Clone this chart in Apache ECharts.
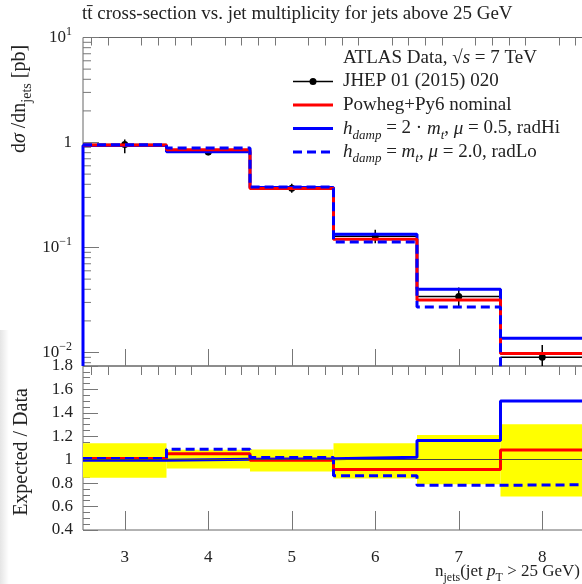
<!DOCTYPE html>
<html>
<head>
<meta charset="utf-8">
<style>
    html, body { margin: 0; padding: 0; background: #fff; }
    #chart { width: 582px; height: 584px; }
</style>
</head>
<body>
<div id="chart"></div>
<script src="https://cdn.jsdelivr.net/npm/echarts@6/dist/echarts.min.js"></script>
<script>
// bins: jet multiplicity 3..8, edges at half integers
var njets = [3, 4, 5, 6, 7, 8];
var binEdges = [2.5, 3.5, 4.5, 5.5, 6.5, 7.5, 8.5];

// top panel, dsigma/dnjets [pb]
var dataXs   = [0.955, 0.81, 0.367, 0.128, 0.0342, 0.0090];
var dataLo   = [0.79, 0.755, 0.333, 0.110, 0.0271, 0.0062];
var dataHi   = [1.07, 0.875, 0.405, 0.148, 0.0416, 0.0118];
var nominalXs = [0.947, 0.853, 0.365, 0.120, 0.0316, 0.0098];
var radHiXs   = [0.935, 0.815, 0.372, 0.134, 0.0401, 0.0137];
var radLoXs   = [0.953, 0.885, 0.376, 0.113, 0.0272, 0.0068];

// bottom panel, expected / data
var bandLo = [0.845, 0.925, 0.90, 0.84, 0.79, 0.686];
var bandHi = [1.14, 1.085, 1.088, 1.14, 1.21, 1.302];
var nominalRatio = [1.01, 1.051, 0.995, 0.917, 0.917, 1.082];
var radHiRatio   = [0.995, 1.005, 1.008, 1.022, 1.165, 1.502];
var radLoRatio   = [1.01, 1.09, 1.018, 0.863, 0.782, 0.786];

var yMinTop = 0.00744, yMaxTop = 10;
var logLabels = {'-2': '{n|10}{sup|−2}', '-1': '{n|10}{sup|−1}', '0': '{n|1}', '1': '{n|10}{sup|1}'};

var FONT = 'Liberation Serif';
var TICK = '#777';
var FRAME = '#666';
var RED = '#ff0000', BLUE = '#0000ff';

var chart = echarts.init(document.getElementById('chart'));

function richSet(size, small) {
    var lh = Math.round(size * 1.4);
    return {
        n:   {fontFamily: FONT, fontSize: size, lineHeight: lh, verticalAlign: 'middle', fill: '#222', color: '#222'},
        i:   {fontFamily: FONT, fontSize: size, fontStyle: 'italic', lineHeight: lh, verticalAlign: 'middle', fill: '#222', color: '#222'},
        sup: {fontFamily: FONT, fontSize: small, lineHeight: small, verticalAlign: 'top', fill: '#222', color: '#222'},
        sub: {fontFamily: FONT, fontSize: small, lineHeight: small, verticalAlign: 'bottom', fill: '#222', color: '#222'},
        isub:{fontFamily: FONT, fontSize: small, fontStyle: 'italic', lineHeight: small, verticalAlign: 'bottom', fill: '#222', color: '#222'}
    };
}
var RICH = richSet(17, 12);
var RICH_LEG = richSet(19, 13);
var RICH_TITLE = richSet(20, 14);

function histo(vals, floor) {
    var pts = [];
    if (floor != null) pts.push([binEdges[0], floor]);
    vals.forEach(function (v, i) { pts.push([binEdges[i], v]); });
    pts.push([binEdges[vals.length], vals[vals.length - 1]]);
    return pts;
}

function stepLine(name, vals, color, dashed, xi, yi, floor) {
    return {
        name: name, type: 'line', step: 'end', xAxisIndex: xi, yAxisIndex: yi,
        data: histo(vals, floor), symbol: 'none', animation: false, silent: true,
        lineStyle: {color: color, width: 3, type: dashed ? [9, 5] : 'solid'}
    };
}

var minorX = [];
for (var k = 26; k <= 85; k += 2) { if (k % 10 !== 0) minorX.push(k / 10); }

var logTicks = [];
[-3, -2, -1, 0, 1].forEach(function (e) {
    for (var m = 1; m < 10; m++) {
        var v = m * Math.pow(10, e);
        if (v >= yMinTop && v <= yMaxTop * 1.0001) logTicks.push([3, v, m === 1 ? 1 : 0]);
    }
});

function xAxisDef(grid, vals, len, labels) {
    return {
        type: 'value', gridIndex: grid, min: 2.5, max: 8.5,
        axisLine: {show: false}, splitLine: {show: false},
        axisTick: {show: true, inside: true, length: len, customValues: vals, lineStyle: {color: TICK}},
        axisLabel: labels ? {show: true, customValues: vals, margin: 19, fontFamily: FONT, fontSize: 17, color: '#222'} : {show: false}
    };
}

var option = {
    backgroundColor: '#fff',
    animation: false,
    grid: [
        {left: 83, top: 37.5, width: 501, height: 328.5, show: true, borderColor: FRAME, borderWidth: 1, containLabel: false, outerBoundsMode: 'none'},
        {left: 83, top: 366, width: 501, height: 164, show: true, borderColor: FRAME, borderWidth: 1, containLabel: false, outerBoundsMode: 'none'}
    ],
    xAxis: [
        xAxisDef(0, njets, 17, false),
        xAxisDef(0, minorX, 8, false),
        xAxisDef(1, njets, 19, true),
        xAxisDef(1, minorX, 9, false)
    ],
    yAxis: [
        {type: 'log', logBase: 10, gridIndex: 0, min: yMinTop, max: yMaxTop,
         axisLine: {show: false}, axisTick: {show: false}, axisLabel: {show: false}, splitLine: {show: false}},
        {type: 'value', gridIndex: 1, min: 0.4, max: 1.8, interval: 0.2,
         axisLine: {show: false}, splitLine: {show: false},
         axisTick: {show: true, inside: true, length: 15, lineStyle: {color: TICK}},
         minorTick: {show: true, splitNumber: 4, length: 7, lineStyle: {color: TICK}},
         axisLabel: {margin: 10, fontFamily: FONT, fontSize: 17, color: '#222'}}
    ],
    series: [
        // log ticks and labels on the top panel
        {
            type: 'custom', xAxisIndex: 0, yAxisIndex: 0, data: logTicks, silent: true, clip: false,
            encode: {x: 0, y: 1},
            renderItem: function (params, api) {
                var v = api.value(1), major = api.value(2);
                var p = api.coord([binEdges[0], v]);
                var children = [{type: 'line', shape: {x1: p[0], y1: p[1], x2: p[0] + (major ? 16 : 8), y2: p[1]},
                                 style: {stroke: TICK, lineWidth: 1}}];
                if (major) {
                    children.push({type: 'text', x: p[0] - 11, y: p[1],
                        style: {text: logLabels[String(Math.round(Math.log10(v)))], rich: RICH,
                                align: 'right', verticalAlign: 'middle', fill: '#222'}});
                }
                return {type: 'group', children: children};
            }
        },
        stepLine('radHi', radHiXs, BLUE, false, 0, 0, yMinTop),
        stepLine('nominal', nominalXs, RED, false, 0, 0),
        stepLine('radLo', radLoXs, BLUE, true, 0, 0),
        // data with error bars
        {
            type: 'custom', xAxisIndex: 0, yAxisIndex: 0, silent: true, clip: true,
            data: njets.map(function (n, i) { return [n, dataXs[i], dataLo[i], dataHi[i]]; }),
            encode: {x: 0, y: 1},
            renderItem: function (params, api) {
                var i = params.dataIndex;
                var x = api.value(0), y = api.value(1);
                var c = api.coord([x, y]);
                var lo = api.coord([x, Math.max(api.value(2), yMinTop)]);
                var hi = api.coord([x, api.value(3)]);
                var l = api.coord([binEdges[i], y]), r = api.coord([binEdges[i + 1], y]);
                return {type: 'group', children: [
                    {type: 'line', shape: {x1: l[0], y1: c[1], x2: r[0], y2: c[1]}, style: {stroke: '#000', lineWidth: 1.5}},
                    {type: 'line', shape: {x1: c[0], y1: lo[1], x2: c[0], y2: hi[1]}, style: {stroke: '#000', lineWidth: 1.5}},
                    {type: 'circle', shape: {cx: c[0], cy: c[1], r: 3.5}, style: {fill: '#000'}}
                ]};
            }
        },
        // ratio panel: data uncertainty band
        {
            type: 'custom', xAxisIndex: 2, yAxisIndex: 1, silent: true, clip: true,
            data: njets.map(function (n, i) { return [binEdges[i], binEdges[i + 1], bandLo[i], bandHi[i]]; }),
            encode: {x: [0, 1], y: [2, 3]},
            renderItem: function (params, api) {
                var a = api.coord([api.value(0), api.value(3)]);
                var b = api.coord([api.value(1), api.value(2)]);
                return {type: 'rect', shape: {x: a[0], y: a[1], width: b[0] - a[0], height: b[1] - a[1]},
                        style: {fill: '#ffff00'}};
            },
            markLine: {silent: true, symbol: 'none', label: {show: false}, animation: false,
                       lineStyle: {color: '#444', width: 1, type: 'solid'}, data: [{yAxis: 1}]}
        },
        stepLine('radHi ratio', radHiRatio, BLUE, false, 2, 1),
        stepLine('nominal ratio', nominalRatio, RED, false, 2, 1),
        stepLine('radLo ratio', radLoRatio, BLUE, true, 2, 1)
    ],
    graphic: [
        {type: 'rect', left: 0, top: 330, shape: {width: 9, height: 254}, silent: true,
         style: {fill: new echarts.graphic.LinearGradient(0, 0, 1, 0, [
             {offset: 0, color: 'rgba(0,0,0,0.10)'}, {offset: 1, color: 'rgba(0,0,0,0)'}])}},
        {type: 'text', x: 82, y: 14, style: {text: 'tt\u0304 cross-section vs. jet multiplicity for jets above 25 GeV',
            fontFamily: FONT, fontSize: 19, fill: '#222', verticalAlign: 'middle'}},
        {type: 'text', x: 20, y: 99, rotation: Math.PI / 2,
         style: {text: '{n|d}{i|σ}{n| /dn}{sub|jets}{n| [pb]}', rich: RICH_TITLE, align: 'center', verticalAlign: 'middle'}},
        {type: 'text', x: 22, y: 452, rotation: Math.PI / 2,
         style: {text: '{n|Expected / Data}', rich: RICH_TITLE, align: 'center', verticalAlign: 'middle'}},
        {type: 'text', x: 580, y: 572,
         style: {text: '{n|n}{sub|jets}{n|(jet }{i|p}{sub|T}{n| > 25 GeV)}', rich: RICH, align: 'right', verticalAlign: 'middle'}},
        // legend
        {type: 'text', x: 343, y: 58,
         style: {text: '{n|ATLAS Data, √}{i|s}{n| = 7 TeV}', rich: RICH_LEG, verticalAlign: 'middle'}},
        {type: 'line', shape: {x1: 293, y1: 81.5, x2: 333, y2: 81.5}, style: {stroke: '#000', lineWidth: 1.5}},
        {type: 'circle', shape: {cx: 313, cy: 81.5, r: 3.5}, style: {fill: '#000'}},
        {type: 'text', x: 343, y: 81.5, style: {text: '{n|JHEP 01 (2015) 020}', rich: RICH_LEG, verticalAlign: 'middle'}},
        {type: 'line', shape: {x1: 293, y1: 105, x2: 333, y2: 105}, style: {stroke: RED, lineWidth: 3}},
        {type: 'text', x: 343, y: 105, style: {text: '{n|Powheg+Py6 nominal}', rich: RICH_LEG, verticalAlign: 'middle'}},
        {type: 'line', shape: {x1: 293, y1: 128.5, x2: 333, y2: 128.5}, style: {stroke: BLUE, lineWidth: 3}},
        {type: 'text', x: 343, y: 128.5,
         style: {text: '{i|h}{isub|damp}{n| = 2 · }{i|m}{isub|t}{n|, }{i|μ}{n| = 0.5, radHi}', rich: RICH_LEG, verticalAlign: 'middle'}},
        {type: 'line', shape: {x1: 293, y1: 152, x2: 333, y2: 152}, style: {stroke: BLUE, lineWidth: 3, lineDash: [9, 5]}},
        {type: 'text', x: 343, y: 152,
         style: {text: '{i|h}{isub|damp}{n| = }{i|m}{isub|t}{n|, }{i|μ}{n| = 2.0, radLo}', rich: RICH_LEG, verticalAlign: 'middle'}}
    ]
};

chart.setOption(option);
</script>
</body>
</html>
